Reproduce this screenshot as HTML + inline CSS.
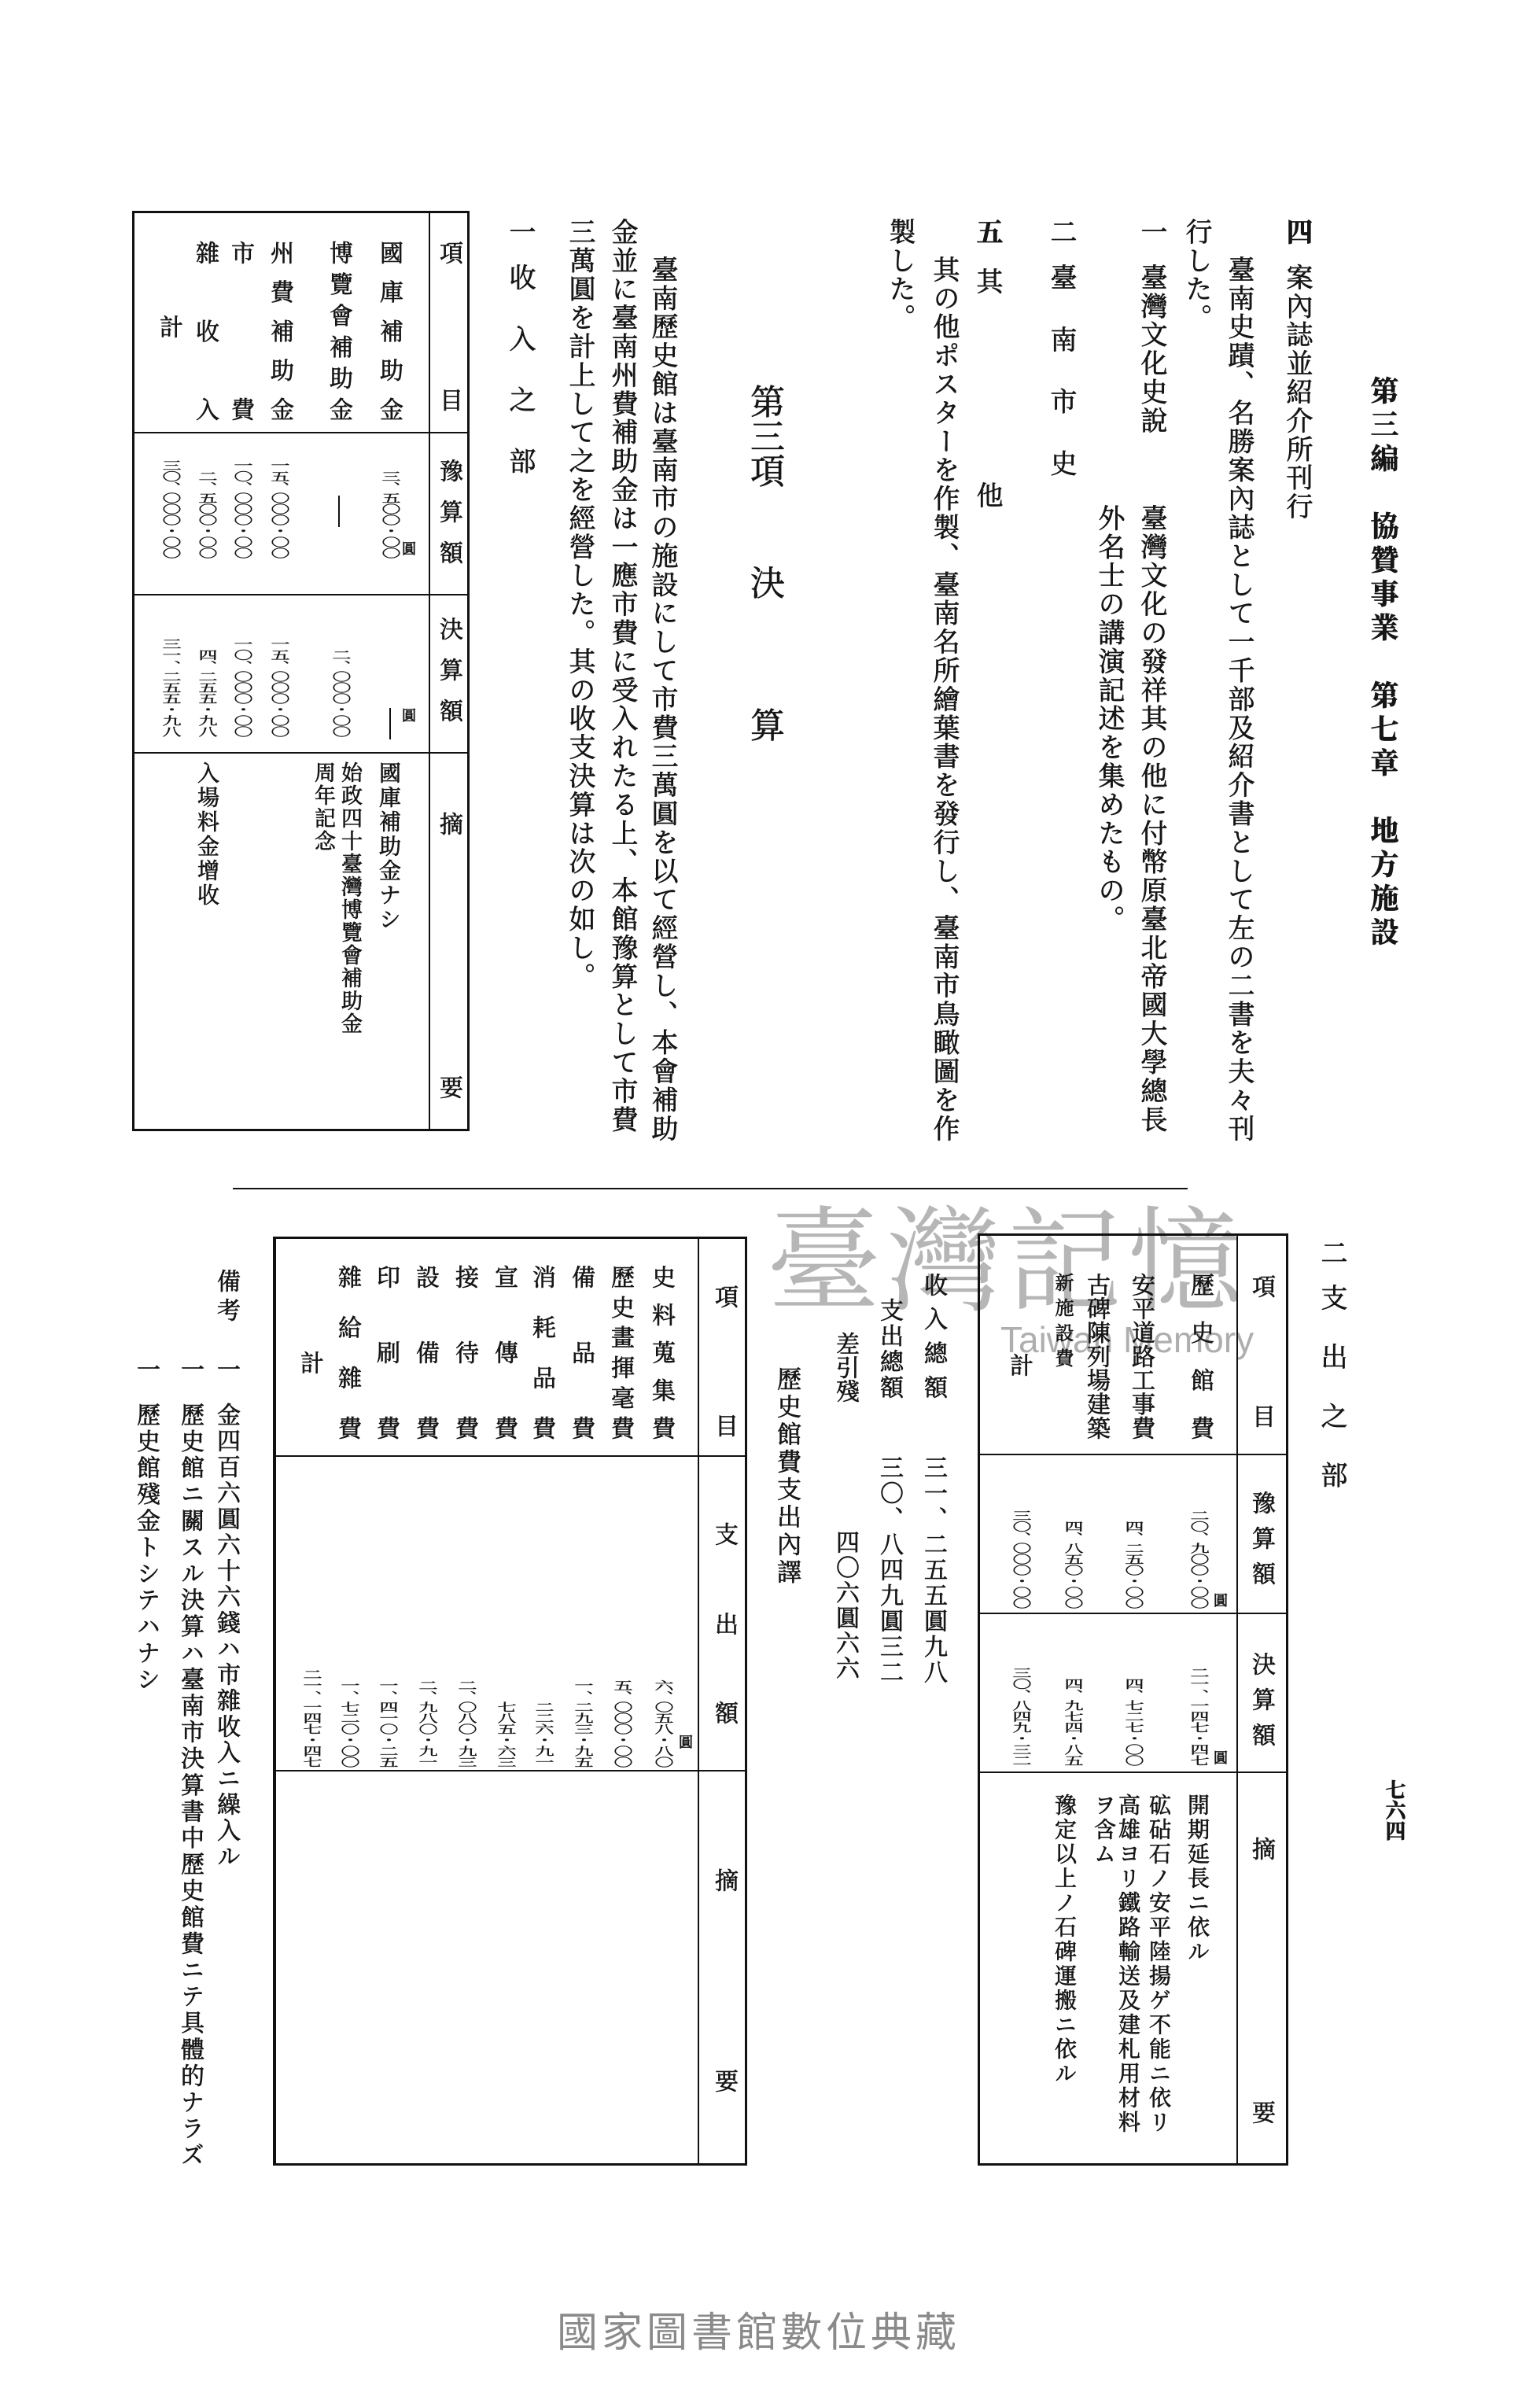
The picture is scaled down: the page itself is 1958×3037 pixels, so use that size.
<!DOCTYPE html>
<html><head><meta charset="utf-8">
<style>
html,body{margin:0;padding:0;background:#fff}
#p{position:relative;width:1958px;height:3037px;overflow:hidden;background:#fff;color:#161616;font-family:"Liberation Serif","Noto Serif CJK SC",serif;-webkit-text-stroke:0.7px #161616}
.v{position:absolute;writing-mode:vertical-rl;text-orientation:upright;white-space:nowrap;line-height:1}
.j{text-align:justify;text-align-last:justify}
.e{text-align:end}
.b{font-weight:bold}
.t{font-size:34px;letter-spacing:2.4px}
.c{font-size:30px}
.a{font-size:24px;letter-spacing:0;transform:scaleY(0.58);transform-origin:50% 100%}
.n{font-size:28px;letter-spacing:3px}
.ln{position:absolute;background:#111}
</style></head><body><div id="p">

<div class="v b" style="left:1740px;top:478px;font-size:36px;letter-spacing:7px">第三編　協贊事業　第七章　地方施設</div>
<div class="v t b" style="left:1631px;top:277px">四</div>
<div class="v t" style="left:1631px;top:335px">案內誌並紹介所刊行</div>
<div class="v t" style="left:1557px;top:325px">臺南史蹟、名勝案內誌として一千部及紹介書として左の二書を夫々刊</div>
<div class="v t" style="left:1503px;top:277px">行した。</div>
<div class="v t" style="left:1446px;top:277px">一</div>
<div class="v t" style="left:1446px;top:335px">臺灣文化史說</div>
<div class="v t" style="left:1446px;top:641px">臺灣文化の發祥其の他に付幣原臺北帝國大學總長</div>
<div class="v t" style="left:1392px;top:641px">外名士の講演記述を集めたもの。</div>
<div class="v t" style="left:1331px;top:277px">二</div>
<div class="v t j" style="left:1331px;top:335px;height:273px">臺南市史</div>
<div class="v t b" style="left:1237px;top:277px">五</div>
<div class="v t" style="left:1237px;top:340px">其</div>
<div class="v t" style="left:1237px;top:612px">他</div>
<div class="v t" style="left:1182px;top:325px">其の他ポスターを作製、臺南名所繪葉書を發行し、臺南市鳥瞰圖を作</div>
<div class="v t" style="left:1126px;top:277px">製した。</div>
<div class="v" style="left:949px;top:488px;font-size:44px">第三項</div>
<div class="v" style="left:949px;top:718px;font-size:44px">決</div>
<div class="v" style="left:949px;top:899px;font-size:44px">算</div>
<div class="v t" style="left:824px;top:325px">臺南歷史館は臺南市の施設にして市費三萬圓を以て經營し、本會補助</div>
<div class="v t" style="left:773px;top:277px">金並に臺南州費補助金は一應市費に受入れたる上、本館豫算として市費</div>
<div class="v t" style="left:719px;top:277px">三萬圓を計上して之を經營した。其の收支決算は次の如し。</div>
<div class="v t" style="left:643px;top:277px">一</div>
<div class="v t j" style="left:643px;top:335px;height:270px">收入之部</div>

<div style="position:absolute;left:168px;top:268px;width:423px;height:1164px;border:3px solid #111"></div>
<div class="ln" style="left:545px;top:268px;width:2px;height:1170px"></div>
<div class="ln" style="left:168px;top:549px;width:429px;height:2px"></div>
<div class="ln" style="left:168px;top:755px;width:429px;height:2px"></div>
<div class="ln" style="left:168px;top:956px;width:429px;height:2px"></div>
<div class="v c" style="left:555px;top:306px">項</div>
<div class="v c" style="left:555px;top:493px">目</div>
<div class="v c j" style="left:555px;top:583px;height:134px">豫算額</div>
<div class="v c j" style="left:555px;top:784px;height:134px">決算額</div>
<div class="v c" style="left:555px;top:1032px">摘</div>
<div class="v c" style="left:555px;top:1367px">要</div>

<div class="v c j" style="left:479px;top:306px;height:229px">國庫補助金</div>
<div class="v c j" style="left:415px;top:306px;height:229px">博覽會補助金</div>
<div class="v c j" style="left:340px;top:306px;height:229px">州費補助金</div>
<div class="v c j" style="left:290px;top:306px;height:229px">市費</div>
<div class="v c j" style="left:245px;top:306px;height:229px">雜收入</div>
<div class="v c" style="left:199px;top:400px">計</div>

<div class="v a e" style="left:482px;top:480px;height:230px">三、五〇〇・〇〇</div>
<div class="v" style="left:510px;top:688px;font-size:18px">圓</div>
<div class="ln" style="left:430px;top:630px;width:2px;height:40px"></div>
<div class="v a e" style="left:341px;top:480px;height:230px">一五、〇〇〇・〇〇</div>
<div class="v a e" style="left:294px;top:480px;height:230px">一〇、〇〇〇・〇〇</div>
<div class="v a e" style="left:249px;top:480px;height:230px">二、五〇〇・〇〇</div>
<div class="v a e" style="left:203px;top:480px;height:230px">三〇、〇〇〇・〇〇</div>

<div class="v" style="left:510px;top:900px;font-size:18px">圓</div>
<div class="ln" style="left:495px;top:900px;width:2px;height:40px"></div>
<div class="v a e" style="left:419px;top:700px;height:237px">二、〇〇〇・〇〇</div>
<div class="v a e" style="left:341px;top:700px;height:237px">一五、〇〇〇・〇〇</div>
<div class="v a e" style="left:294px;top:700px;height:237px">一〇、〇〇〇・〇〇</div>
<div class="v a e" style="left:249px;top:700px;height:237px">四、二五五・九八</div>
<div class="v a e" style="left:203px;top:700px;height:237px">三一、二五五・九八</div>

<div class="v n" style="left:479px;top:968px">國庫補助金ナシ</div>
<div class="v" style="left:431px;top:968px;font-size:27px;letter-spacing:2px">始政四十臺灣博覽會補助金</div>
<div class="v" style="left:397px;top:968px;font-size:27px;letter-spacing:2px">周年記念</div>
<div class="v n" style="left:248px;top:968px">入場料金增收</div>

<div class="ln" style="left:296px;top:1510px;width:1214px;height:2px"></div>

<div style="position:absolute;left:975px;top:1520px;font-size:145px;line-height:1;color:rgba(110,110,110,0.5);-webkit-text-stroke:0;font-family:'Noto Serif CJK SC',serif;letter-spacing:8px;white-space:nowrap">臺灣記憶</div>
<div style="position:absolute;left:1272px;top:1680px;font-size:46px;line-height:1;color:rgba(120,120,120,0.6);-webkit-text-stroke:0;font-family:'Liberation Sans',sans-serif;white-space:nowrap">Taiwan Memory</div>

<div class="v t" style="left:1675px;top:1575px">二</div>
<div class="v t j" style="left:1675px;top:1632px;height:262px">支出之部</div>

<div style="position:absolute;left:1243px;top:1568px;width:389px;height:1179px;border:3px solid #111"></div>
<div class="ln" style="left:1572px;top:1568px;width:2px;height:1185px"></div>
<div class="ln" style="left:1243px;top:1848px;width:395px;height:2px"></div>
<div class="ln" style="left:1243px;top:2050px;width:395px;height:2px"></div>
<div class="ln" style="left:1243px;top:2252px;width:395px;height:2px"></div>
<div class="v c" style="left:1588px;top:1620px">項</div>
<div class="v c" style="left:1588px;top:1785px">目</div>
<div class="v c j" style="left:1588px;top:1895px;height:120px">豫算額</div>
<div class="v c j" style="left:1588px;top:2100px;height:120px">決算額</div>
<div class="v c" style="left:1588px;top:2335px">摘</div>
<div class="v c" style="left:1588px;top:2670px">要</div>

<div class="v c j" style="left:1510px;top:1618px;height:212px">歷史館費</div>
<div class="v c j" style="left:1435px;top:1618px;height:212px">安平道路工事費</div>
<div class="v c j" style="left:1378px;top:1618px;height:212px">古碑陳列場建築</div>
<div class="v j" style="left:1338px;top:1618px;height:120px;font-size:24px">新施設費</div>
<div class="v c" style="left:1280px;top:1720px">計</div>

<div class="v a e" style="left:1510px;top:1800px;height:245px">二〇、九〇〇・〇〇</div>
<div class="v" style="left:1542px;top:2025px;font-size:18px">圓</div>
<div class="v a e" style="left:1427px;top:1800px;height:245px">四、二五〇・〇〇</div>
<div class="v a e" style="left:1350px;top:1800px;height:245px">四、八五〇・〇〇</div>
<div class="v a e" style="left:1284px;top:1800px;height:245px">三〇、〇〇〇・〇〇</div>
<div class="v a e" style="left:1510px;top:2000px;height:245px">二一、一四七・四七</div>
<div class="v" style="left:1542px;top:2225px;font-size:18px">圓</div>
<div class="v a e" style="left:1427px;top:2000px;height:245px">四、七二七・〇〇</div>
<div class="v a e" style="left:1350px;top:2000px;height:245px">四、九七四・八五</div>
<div class="v a e" style="left:1284px;top:2000px;height:245px">三〇、八四九・三二</div>

<div class="v n" style="left:1507px;top:2280px">開期延長ニ依ル</div>
<div class="v n" style="left:1458px;top:2280px">砿砧石ノ安平陸揚ゲ不能ニ依リ</div>
<div class="v n" style="left:1419px;top:2280px">高雄ヨリ鐵路輸送及建札用材料</div>
<div class="v n" style="left:1388px;top:2280px">ヲ含ム</div>
<div class="v n" style="left:1338px;top:2280px">豫定以上ノ石碑運搬ニ依ル</div>

<div class="v c j" style="left:1171px;top:1618px;height:160px">收入總額</div>
<div class="v c j" style="left:1171px;top:1850px;height:290px">三一、二五五圓九八</div>
<div class="v c j" style="left:1115px;top:1650px;height:128px">支出總額</div>
<div class="v c j" style="left:1115px;top:1850px;height:290px">三〇、八四九圓三二</div>
<div class="v c j" style="left:1059px;top:1693px;height:85px">差引殘</div>
<div class="v c j" style="left:1059px;top:1945px;height:190px">四〇六圓六六</div>
<div class="v" style="left:985px;top:1737px;font-size:31px;letter-spacing:4px">歷史館費支出內譯</div>

<div style="position:absolute;left:350px;top:1572px;width:597px;height:1175px;border:3px solid #111;border-left:0"></div>
<div class="ln" style="left:347px;top:1572px;width:4px;height:1181px"></div>
<div class="ln" style="left:887px;top:1572px;width:2px;height:1181px"></div>
<div class="ln" style="left:350px;top:1850px;width:597px;height:2px"></div>
<div class="ln" style="left:350px;top:2250px;width:597px;height:2px"></div>
<div class="v c" style="left:905px;top:1633px">項</div>
<div class="v c" style="left:905px;top:1797px">目</div>
<div class="v c" style="left:905px;top:1935px">支</div>
<div class="v c" style="left:905px;top:2049px">出</div>
<div class="v c" style="left:905px;top:2162px">額</div>
<div class="v c" style="left:905px;top:2375px">摘</div>
<div class="v c" style="left:905px;top:2630px">要</div>

<div class="v c j" style="left:825px;top:1608px;height:222px">史料蒐集費</div>
<div class="v c j" style="left:773px;top:1608px;height:222px">歷史畫揮毫費</div>
<div class="v c j" style="left:723px;top:1608px;height:222px">備品費</div>
<div class="v c j" style="left:673px;top:1608px;height:222px">消耗品費</div>
<div class="v c j" style="left:625px;top:1608px;height:222px">宣傳費</div>
<div class="v c j" style="left:575px;top:1608px;height:222px">接待費</div>
<div class="v c j" style="left:525px;top:1608px;height:222px">設備費</div>
<div class="v c j" style="left:475px;top:1608px;height:222px">印刷費</div>
<div class="v c j" style="left:426px;top:1608px;height:222px">雜給雜費</div>
<div class="v c" style="left:378px;top:1717px">計</div>

<div class="v" style="left:862px;top:2205px;font-size:18px">圓</div>
<div class="v a e" style="left:829px;top:1900px;height:347px">六、〇五八・八〇</div>
<div class="v a e" style="left:777px;top:1900px;height:347px">五、〇〇〇・〇〇</div>
<div class="v a e" style="left:727px;top:1900px;height:347px">一、二九三・九五</div>
<div class="v a e" style="left:677px;top:1900px;height:347px">二二六・九一</div>
<div class="v a e" style="left:629px;top:1900px;height:347px">七八五・六三</div>
<div class="v a e" style="left:579px;top:1900px;height:347px">二、〇八〇・九三</div>
<div class="v a e" style="left:529px;top:1900px;height:347px">二、九八〇・九一</div>
<div class="v a e" style="left:479px;top:1900px;height:347px">一、四一〇・二五</div>
<div class="v a e" style="left:430px;top:1900px;height:347px">一、七二〇・〇〇</div>
<div class="v a e" style="left:382px;top:1900px;height:347px">二一、一四七・四七</div>

<div class="v c j" style="left:272px;top:1613px;height:67px">備考</div>
<div class="v c" style="left:272px;top:1725px">一</div>
<div class="v" style="left:272px;top:1783px;font-size:30px;letter-spacing:3px">金四百六圓六十六錢ハ市雜收入ニ繰入ル</div>
<div class="v c" style="left:226px;top:1725px">一</div>
<div class="v" style="left:226px;top:1783px;font-size:30px;letter-spacing:3.6px">歷史館ニ關スル決算ハ臺南市決算書中歷史館費ニテ具體的ナラズ</div>
<div class="v c" style="left:170px;top:1725px">一</div>
<div class="v" style="left:170px;top:1783px;font-size:30px;letter-spacing:3.6px">歷史館殘金トシテハナシ</div>

<div class="v b" style="left:1759px;top:2262px;font-size:26px">七六四</div>

<div style="position:absolute;left:708px;top:2940px;font-size:52px;line-height:1;color:#8a8a8a;-webkit-text-stroke:0;letter-spacing:5px;white-space:nowrap;font-family:'Liberation Sans','Noto Sans CJK TC',sans-serif">國家圖書館數位典藏</div>

</div></body></html>
